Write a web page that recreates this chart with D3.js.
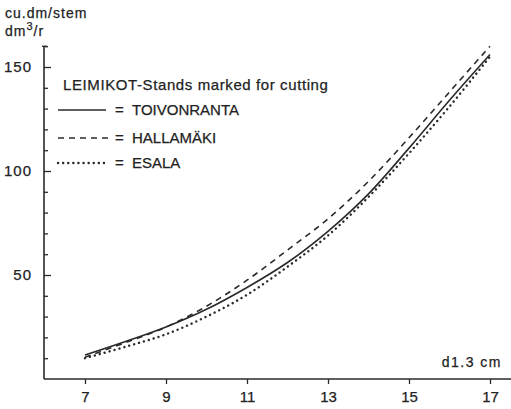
<!DOCTYPE html>
<html>
<head>
<meta charset="utf-8">
<script src="https://cdn.jsdelivr.net/npm/d3@7"></script>
<style>
  body { margin: 0; background: #fff; }
  svg { display: block; }
  text { font-family: "Liberation Sans", Arial, sans-serif; fill: #222; stroke: #222; stroke-width: 0.25px; }
</style>
</head>
<body>
<svg id="chart" width="511" height="409"></svg>
<script>
// diameter at 1.3 m, cm
const diam = [7, 8, 9, 10, 11, 12, 13, 14, 15, 16, 17];
// stem volume, dm3
const toivonranta = [11.5, 18, 25, 33.5, 44, 56, 71, 89, 111, 134, 156];
const hallamaki = [10.5, 17.5, 25, 35, 47.5, 62, 77, 95, 116, 138, 160];
const esala = [10, 15.5, 21.5, 30, 40.5, 54, 69, 87.5, 108.5, 131, 155];

const xTicks = [7, 9, 11, 13, 15, 17];
const yTicks = d3.range(10, 161, 10);
const yLabels = [50, 100, 150];

const series = [
  { name: 'TOIVONRANTA', values: toivonranta, dash: null },
  { name: 'HALLAMÄKI', values: hallamaki, dash: '6,5' },
  { name: 'ESALA', values: esala, dash: '0.1,5' }
];

const svg = d3.select('#chart');
const ink = '#2a2a2a';

const x = d3.scaleLinear().domain([7, 17]).range([85, 490]);
const y = d3.scaleLinear().domain([0, 150]).range([379, 67]);

// x axis
const xAxis = svg.append('g')
  .attr('transform', `translate(0,${y(0)})`)
  .call(d3.axisBottom(x).tickValues(xTicks).tickSize(5).tickPadding(7).tickFormat(d3.format('d')));
xAxis.select('.domain').remove();
xAxis.append('line')
  .attr('x1', 44).attr('x2', 511)
  .attr('stroke', ink).attr('stroke-width', 1.6);
xAxis.selectAll('.tick line').attr('stroke', ink).attr('stroke-width', 1.3);
xAxis.selectAll('.tick text')
  .attr('fill', ink).style('font-size', '15px').attr('dy', '0.72em');

// y axis, ticks pointing inward
const yAxis = svg.append('g')
  .attr('transform', 'translate(44,0)')
  .call(d3.axisLeft(y).tickValues(yTicks).tickSize(-4).tickPadding(12)
    .tickFormat(d => yLabels.includes(d) ? d : ''));
yAxis.select('.domain').remove();
yAxis.append('line')
  .attr('y1', y(0)).attr('y2', y(160))
  .attr('stroke', ink).attr('stroke-width', 1.6);
yAxis.append('line')
  .attr('x1', -2).attr('x2', 3)
  .attr('y1', y(160)).attr('y2', y(160))
  .attr('stroke', ink).attr('stroke-width', 1.3);
yAxis.selectAll('.tick line')
  .attr('stroke', ink).attr('stroke-width', 1.3)
  .attr('x2', d => yLabels.includes(d) ? 7 : 4);
yAxis.selectAll('.tick text')
  .attr('fill', ink).style('font-size', '15px').style('letter-spacing', '1px');

// axis titles
svg.append('text').attr('x', 5).attr('y', 18)
  .style('font-size', '14px').style('letter-spacing', '1px').text('cu.dm/stem');
const unit = svg.append('text').attr('x', 5).attr('y', 36)
  .style('font-size', '14px').style('letter-spacing', '1px');
unit.append('tspan').text('dm');
unit.append('tspan').attr('dy', -6).style('font-size', '11px').text('3');
unit.append('tspan').attr('dy', 6).text('/r');

svg.append('text').attr('x', 502).attr('y', 367)
  .attr('text-anchor', 'end')
  .style('font-size', '14px').style('letter-spacing', '1.5px').text('d1.3 cm');

// curves
const line = d3.line()
  .x((d, i) => x(diam[i]))
  .y(d => y(d))
  .curve(d3.curveCatmullRom);

const isDot = d => d.dash === '0.1,5';

svg.selectAll('path.curve')
  .data(series)
  .enter().append('path')
  .attr('class', 'curve')
  .attr('d', d => line(d.values))
  .attr('fill', 'none')
  .attr('stroke', ink)
  .attr('stroke-width', d => isDot(d) ? 2.4 : 1.6)
  .attr('stroke-linecap', d => isDot(d) ? 'round' : 'butt')
  .attr('stroke-dasharray', d => d.dash);

// legend
svg.append('text').attr('x', 63).attr('y', 90)
  .style('font-size', '15px').style('letter-spacing', '0.6px')
  .text('LEIMIKOT-Stands marked for cutting');

const rowY = [110, 138, 163];
const legend = svg.selectAll('g.legend')
  .data(series)
  .enter().append('g')
  .attr('class', 'legend')
  .attr('transform', (d, i) => `translate(0,${rowY[i]})`);

legend.append('line')
  .attr('x1', 58).attr('x2', d => isDot(d) ? 107 : (d.dash ? 111 : 106))
  .attr('stroke', ink)
  .attr('stroke-width', d => isDot(d) ? 2.4 : 1.6)
  .attr('stroke-linecap', d => isDot(d) ? 'round' : 'butt')
  .attr('stroke-dasharray', d => d.dash);

legend.append('text')
  .attr('x', 115).attr('y', 5)
  .style('font-size', '15px')
  .text('=');

legend.append('text')
  .attr('x', 132).attr('y', 5)
  .style('font-size', '15px')
  .text(d => d.name);
</script>
</body>
</html>
